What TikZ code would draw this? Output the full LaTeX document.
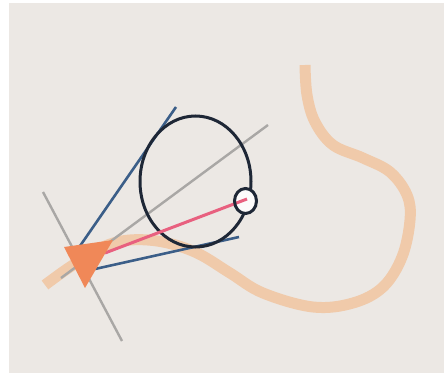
\documentclass[tikz,border=0pt]{standalone}
\usepackage{tikz}
\definecolor{paper}{HTML}{ECE8E4}
\definecolor{peach}{HTML}{F0CAAA}
\definecolor{navy}{HTML}{1E2736}
\definecolor{steel}{HTML}{3B5E88}
\definecolor{axisgray}{HTML}{A9A7A5}
\definecolor{rose}{HTML}{E8607F}
\definecolor{flame}{HTML}{F08858}
\begin{document}
\begin{tikzpicture}[x=1pt, y=-1pt,
	path/.style={draw=peach, line width=11pt},
	axis/.style={draw=axisgray, line width=2.4pt},
	ray/.style={draw=steel, line width=2.6pt},
	sight/.style={draw=rose, line width=3pt},
	lens/.style={draw=navy, line width=3pt}]
			\useasboundingbox (0,0) rectangle (444,374);
			\fill[paper] (9,3) rectangle (444,373);
			\draw[path] plot[smooth, tension=0.6] coordinates {(45,285) (70,267) (103,247) (130,240) (163,242) (197,253) (230,273) (263,293) (313,307) (353,303) (383,287) (402,257) (410,220) (407,195) (390,172) (363,158) (333,145) (315,122) (307,95) (305,65)};
			\coordinate (g1a) at (61,278);
			\coordinate (g1b) at (268,125);
			\coordinate (g2a) at (43,192);
			\coordinate (g2b) at (122,341);
			\coordinate (b1a) at (176,107);
			\coordinate (b1b) at (80,246);
			\coordinate (b2a) at (239,237);
			\coordinate (b2b) at (95,269);
			\coordinate (eye) at (195.5,181.5);
			\coordinate (dot) at (245.5,201);
			\coordinate (aim) at (247,199);
			\coordinate (pink) at (105,253);
			\coordinate (t1) at (64,247);
			\coordinate (t2) at (113,240);
			\coordinate (t3) at (85,288);
			\draw[axis] (g1a) -- (g1b);
			\draw[axis] (g2a) -- (g2b);
			\draw[ray] (b1a) -- (b1b);
			\draw[ray] (b2a) -- (b2b);
			\draw[lens] (eye) ellipse (55.5 and 65.5);
			\fill[white!85!paper] (dot) ellipse (11 and 12.5);
			\draw[sight] (pink) -- (aim);
			\draw[lens] (dot) ellipse (11 and 12.5);
			\fill[flame] (t1) -- (t2) -- (t3) -- cycle;
			\end{tikzpicture}
\end{document}
